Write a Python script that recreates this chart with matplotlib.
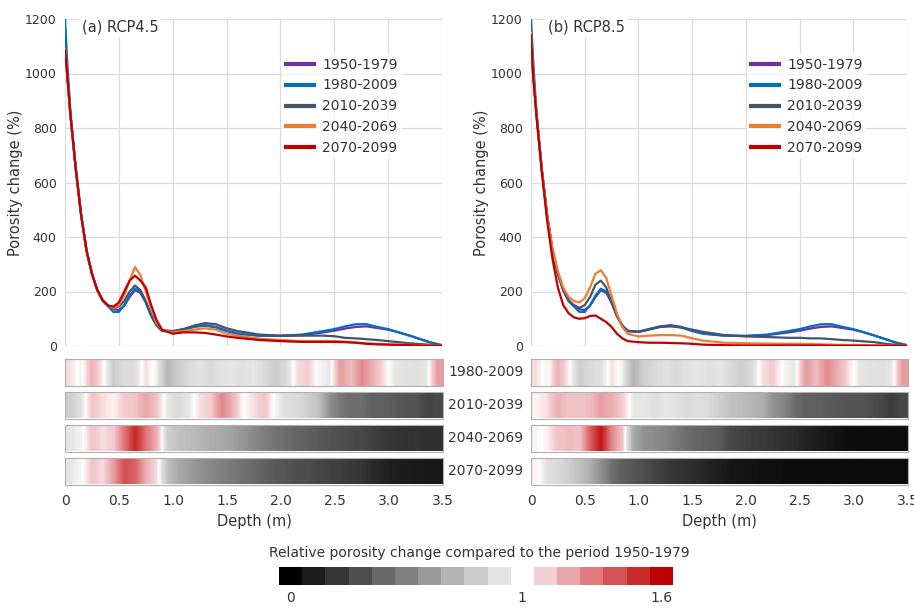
import numpy as np
import matplotlib
matplotlib.use("Agg")
import matplotlib.pyplot as plt
from matplotlib.colors import LinearSegmentedColormap, Normalize

# ---------------- data ----------------
depth = [0, 0.02, 0.05, 0.1, 0.15, 0.2, 0.25, 0.3, 0.35, 0.4, 0.45, 0.5, 0.55, 0.6, 0.65,
         0.7, 0.75, 0.8, 0.85, 0.9, 1.0, 1.1, 1.2, 1.3, 1.4, 1.5, 1.6, 1.8, 2.0, 2.2,
         2.4, 2.5, 2.6, 2.7, 2.8, 2.9, 3.0, 3.1, 3.2, 3.3, 3.4, 3.5]

periods = ["1950-1979", "1980-2009", "2010-2039", "2040-2069", "2070-2099"]

hist_1950 = [1150, 1000, 850, 650, 480, 350, 265, 205, 168, 148, 135, 132, 148, 180, 205,
             195, 160, 112, 76, 56, 52, 62, 72, 76, 70, 56, 46, 38, 37, 40,
             50, 56, 64, 70, 72, 66, 60, 50, 38, 25, 12, 3]
hist_1980 = [1200, 1050, 860, 650, 480, 350, 265, 205, 165, 145, 125, 125, 150, 185, 210,
             200, 160, 110, 75, 55, 52, 60, 70, 75, 68, 55, 45, 38, 37, 42,
             55, 62, 72, 80, 80, 70, 62, 50, 38, 25, 12, 3]

rcp45_2010 = [1100, 1000, 850, 650, 480, 350, 265, 205, 168, 148, 140, 145, 165, 200, 222,
              205, 165, 115, 80, 58, 55, 62, 75, 84, 80, 65, 55, 42, 38, 38,
              38, 36, 30, 28, 25, 22, 18, 14, 10, 7, 4, 2]
rcp45_2040 = [1090, 1000, 850, 650, 480, 350, 265, 205, 168, 148, 140, 150, 185, 240, 290,
              260, 200, 140, 85, 60, 50, 55, 60, 65, 60, 45, 38, 27, 22, 18,
              18, 18, 16, 13, 10, 8, 6, 5, 4, 3, 2, 1]
rcp45_2070 = [1085, 1000, 850, 650, 480, 350, 265, 205, 168, 148, 145, 160, 200, 240, 258,
              240, 215, 150, 95, 60, 45, 50, 50, 48, 42, 35, 30, 22, 18, 15,
              15, 15, 14, 12, 8, 6, 5, 4, 3, 2, 1, 1]

rcp85_2010 = [1150, 1000, 860, 650, 480, 350, 265, 205, 165, 150, 140, 150, 180, 225, 240,
              215, 160, 110, 72, 55, 52, 62, 70, 72, 68, 60, 52, 40, 35, 33,
              30, 30, 28, 28, 25, 22, 20, 17, 14, 8, 4, 2]
rcp85_2040 = [1150, 1000, 860, 650, 480, 360, 275, 215, 180, 165, 160, 175, 215, 265, 278,
              250, 185, 120, 70, 45, 35, 38, 40, 40, 38, 28, 20, 12, 10, 9,
              8, 8, 7, 6, 5, 4, 4, 3, 2, 2, 1, 1]
rcp85_2070 = [1140, 990, 850, 640, 460, 320, 215, 150, 120, 105, 100, 102, 110, 112, 100,
              88, 70, 45, 28, 18, 14, 12, 12, 11, 10, 8, 5, 3, 2, 2,
              2, 2, 2, 2, 1, 1, 1, 1, 1, 1, 1, 1]

# relative porosity change (ratio to 1950-1979), 0.1 m bins from 0 to 3.5 m
strip_labels = ["1980-2009", "2010-2039", "2040-2069", "2070-2099"]

ratio_1980 = [1.05, 0.97, 1.15, 1.02, 0.85, 0.9, 0.92, 1.05, 0.97, 0.75,
              0.85, 0.9, 0.93, 0.9, 0.93, 0.95, 0.92, 0.95, 0.9, 0.85,
              0.9, 1.05, 1.08, 0.98, 0.95, 1.2, 1.12, 1.25, 1.15, 1.05,
              0.95, 0.93, 0.92, 0.95, 1.2]
rcp45_ratio_2010 = [0.85, 0.93, 1.1, 1.05, 1.02, 1.08, 1.1, 1.18, 1.1, 0.95,
                    0.9, 0.95, 1.05, 1.08, 1.25, 1.15, 1.0, 1.05, 1.1, 0.98,
                    0.92, 0.9, 0.85, 0.8, 0.6, 0.5, 0.45, 0.45, 0.4, 0.4,
                    0.38, 0.35, 0.35, 0.28, 0.3]
rcp45_ratio_2040 = [0.95, 0.97, 1.1, 1.05, 1.08, 1.3, 1.5, 1.3, 1.15, 0.85,
                    0.8, 0.78, 0.75, 0.72, 0.7, 0.67, 0.62, 0.57, 0.52, 0.48,
                    0.45, 0.42, 0.4, 0.37, 0.35, 0.33, 0.31, 0.3, 0.27, 0.24,
                    0.22, 0.21, 0.22, 0.2, 0.2]
rcp45_ratio_2070 = [0.95, 0.98, 1.1, 1.05, 1.2, 1.4, 1.35, 1.15, 1.05, 0.8,
                    0.7, 0.65, 0.6, 0.56, 0.53, 0.5, 0.47, 0.44, 0.4, 0.37,
                    0.35, 0.33, 0.32, 0.3, 0.28, 0.26, 0.24, 0.22, 0.18, 0.15,
                    0.13, 0.12, 0.11, 0.1, 0.1]
rcp85_ratio_2010 = [1.02, 1.05, 1.15, 1.1, 1.1, 1.12, 1.2, 1.15, 1.08, 0.95,
                    0.95, 0.92, 0.95, 0.93, 0.9, 0.92, 0.9, 0.85, 0.8, 0.78,
                    0.75, 0.72, 0.6, 0.55, 0.45, 0.4, 0.4, 0.38, 0.36, 0.35,
                    0.35, 0.33, 0.3, 0.25, 0.3]
rcp85_ratio_2040 = [0.98, 1.02, 1.1, 1.12, 1.1, 1.35, 1.55, 1.25, 1.1, 0.7,
                    0.6, 0.58, 0.55, 0.5, 0.45, 0.42, 0.4, 0.38, 0.3, 0.28,
                    0.25, 0.24, 0.22, 0.2, 0.18, 0.15, 0.13, 0.1, 0.08, 0.06,
                    0.05, 0.05, 0.05, 0.05, 0.05]
rcp85_ratio_2070 = [1.02, 0.93, 0.9, 0.85, 0.8, 0.72, 0.6, 0.46, 0.4, 0.35,
                    0.32, 0.28, 0.25, 0.22, 0.2, 0.18, 0.15, 0.13, 0.1, 0.09,
                    0.08, 0.07, 0.07, 0.06, 0.06, 0.06, 0.05, 0.05, 0.05, 0.05,
                    0.05, 0.05, 0.05, 0.05, 0.05]

cbar_gray = ["#000000", "#1c1c1c", "#363636", "#4f4f4f", "#696969",
             "#808080", "#9a9a9a", "#b3b3b3", "#cccccc", "#e3e3e3"]
cbar_red = ["#f4d0d4", "#eaa8a9", "#e07c7e", "#d65355", "#ca2a2b", "#c00000"]
cbar_ticks = [0.05, 1.05, 1.65]
cbar_ticklabels = ["0", "1", "1.6"]

# ---------------- styling ----------------
colors = ["#7030a0", "#0070c0", "#44546a", "#ed7d31", "#c00000"]
txt = "#333333"
plt.rcParams["font.family"] = "DejaVu Sans"
plt.rcParams["text.color"] = txt

W, H = 914, 608
fig = plt.figure(figsize=(W / 100, H / 100), dpi=100)


def px_axes(x0, y0, x1, y1):
    return fig.add_axes([x0 / W, 1 - y1 / H, (x1 - x0) / W, (y1 - y0) / H])


cmap = LinearSegmentedColormap.from_list(
    "porosity",
    [(0, "#000000"), (0.95 / 1.6, "#e6e6e6"), (1.0 / 1.6, "#ffffff"),
     (1.07 / 1.6, "#f4d0d4"), (1.0, "#c00000")])
norm = Normalize(0, 1.6)

panels = [
    dict(x0=65, x1=442, title="(a) RCP4.5",
         lines=[hist_1950, hist_1980, rcp45_2010, rcp45_2040, rcp45_2070],
         strips=[ratio_1980, rcp45_ratio_2010, rcp45_ratio_2040, rcp45_ratio_2070]),
    dict(x0=531, x1=907, title="(b) RCP8.5",
         lines=[hist_1950, hist_1980, rcp85_2010, rcp85_2040, rcp85_2070],
         strips=[ratio_1980, rcp85_ratio_2010, rcp85_ratio_2040, rcp85_ratio_2070]),
]

strip_tops = [359, 392, 425, 458]
strip_h = 26.5

for p in panels:
    ax = px_axes(p["x0"], 19, p["x1"], 346)
    for series, lab, c in zip(p["lines"], periods, colors):
        ax.plot(depth, series, color=c, lw=1.6, label=lab)
    ax.set_xlim(0, 3.5)
    ax.set_ylim(0, 1200)
    ax.set_yticks(range(0, 1201, 200))
    ax.set_xticks(np.arange(0, 3.51, 0.5))
    ax.tick_params(axis="x", labelbottom=False, length=0)
    ax.tick_params(axis="y", length=0, labelsize=9, labelcolor=txt, pad=6)
    ax.grid(True, color="#dcdcdc", lw=0.9)
    ax.set_axisbelow(True)
    for s in ax.spines.values():
        s.set_visible(False)
    ax.set_ylabel("Porosity change (%)", fontsize=10.5, color=txt, labelpad=1)
    ax.text(0.045, 0.9755, p["title"], transform=ax.transAxes, fontsize=10.5,
            va="center", ha="left",
            bbox=dict(facecolor="white", edgecolor="none", pad=2))
    leg = ax.legend(loc="upper left", bbox_to_anchor=(0.575, 0.895), frameon=True,
                    fontsize=10, handlelength=2.0, handletextpad=0.6,
                    labelspacing=0.5, borderpad=0.3, borderaxespad=0)
    leg.get_frame().set_facecolor("white")
    leg.get_frame().set_edgecolor("none")
    for h in leg.get_lines():
        h.set_linewidth(3)

    for i, vals in enumerate(p["strips"]):
        sax = px_axes(p["x0"], strip_tops[i], p["x1"] + 1, strip_tops[i] + strip_h)
        sax.imshow(np.array(vals)[None, :], cmap=cmap, norm=norm, aspect="auto",
                   extent=[0, 3.5, 0, 1], interpolation="bilinear")
        sax.set_xlim(0, 3.5)
        sax.set_yticks([])
        for s in sax.spines.values():
            s.set_color("#b0b0b0")
            s.set_linewidth(0.8)
        if i < 3:
            sax.set_xticks([])
        else:
            sax.set_xticks(np.arange(0, 3.51, 0.5))
            sax.set_xticklabels(["0", "0.5", "1.0", "1.5", "2.0", "2.5", "3.0", "3.5"])
            sax.tick_params(axis="x", length=0, labelsize=10, labelcolor=txt, pad=7)
            sax.set_xlabel("Depth (m)", fontsize=10.5, color=txt, labelpad=4)

# row labels between the panels
for i, lab in enumerate(strip_labels):
    fig.text(486 / W, 1 - (strip_tops[i] + strip_h / 2) / H, lab, ha="center",
             va="center", fontsize=10, color=txt)

# colour scale
fig.text(479 / W, 1 - 553 / H, "Relative porosity change compared to the period 1950-1979",
         ha="center", va="center", fontsize=10, color=txt)
cax = px_axes(279, 567, 673, 585)
cax.bar(np.arange(len(cbar_gray)) * 0.1, 1, width=0.1, align="edge", color=cbar_gray)
cax.bar(1.1 + np.arange(len(cbar_red)) * 0.1, 1, width=0.1, align="edge", color=cbar_red)
cax.set_xlim(0, 1.7)
cax.set_ylim(0, 1)
cax.set_yticks([])
cax.set_xticks(cbar_ticks)
cax.set_xticklabels(cbar_ticklabels)
cax.tick_params(axis="x", length=0, labelsize=10, labelcolor=txt, pad=4)
for s in cax.spines.values():
    s.set_visible(False)

fig.savefig("out.png", dpi=100, facecolor="white")
